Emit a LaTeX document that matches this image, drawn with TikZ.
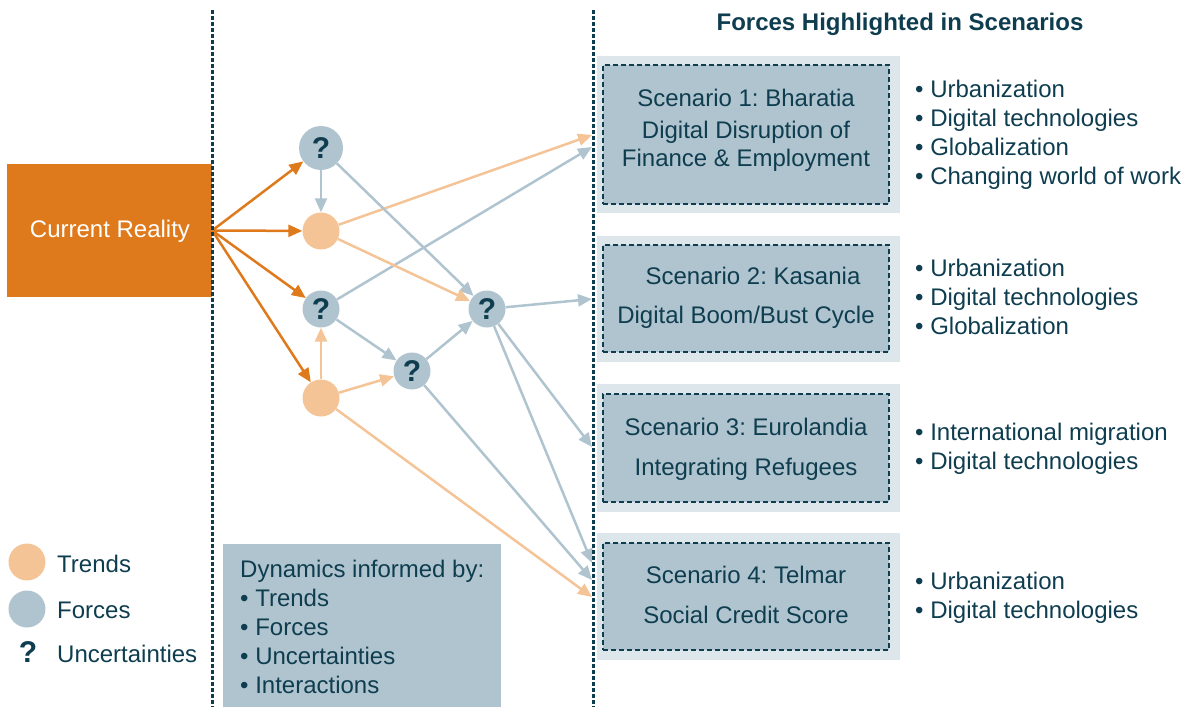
\documentclass[tikz,border=0pt]{standalone}
\usepackage{fontspec}
\setmainfont{Liberation Sans}
\usetikzlibrary{arrows.meta}
\definecolor{dk}{RGB}{14,61,79}
\definecolor{org}{RGB}{223,122,28}
\definecolor{lor}{RGB}{244,196,151}
\definecolor{gb}{RGB}{176,196,207}
\definecolor{lbg}{RGB}{221,230,235}
\frenchspacing
\begin{document}
\begin{tikzpicture}[x=1pt,y=-1pt,
  txt/.style={font=\fontsize{24}{29}\selectfont, text=dk, inner sep=0pt, anchor=base west},
  ctxt/.style={font=\fontsize{24}{29}\selectfont, text=dk, inner sep=0pt, anchor=base},
  trend/.style={circle, fill=lor, minimum size=37pt, inner sep=0pt},
  force/.style={circle, fill=gb, minimum size=37pt, inner sep=0pt, font=\bfseries\fontsize{30}{30}\selectfont, text=dk},
  oarr/.style={draw=org, line width=2.5pt, -{Triangle[length=14pt,width=12pt]}},
  larr/.style={draw=lor, line width=2.5pt, -{Triangle[length=14pt,width=12pt]}},
  garr/.style={draw=gb, line width=2.5pt, -{Triangle[length=14pt,width=12pt]}},
  vline/.style={draw=dk, line width=3pt, dash pattern=on 4pt off 2pt},
  outbox/.style={fill=lbg},
  inbox/.style={draw=dk, fill=gb, line width=2.6pt, dash pattern=on 5pt off 3pt, minimum width=286pt, inner sep=0pt}
]
\useasboundingbox (0,0) rectangle (1192,707);

% current reality
\node[fill=org, minimum width=205pt, minimum height=133pt, inner sep=0pt] (cr) at (109.5,230.5) {};
\node[font=\fontsize{24}{29}\selectfont, text=white, inner sep=0pt, anchor=base] (crt) at (110,237) {Current Reality};

% scenario boxes
\fill[outbox] (597,56) rectangle (900,213);
\fill[outbox] (597,236) rectangle (900,362);
\fill[outbox] (597,384) rectangle (900,512);
\fill[outbox] (597,533) rectangle (900,660);
\node[inbox, minimum height=139pt] (s1) at (746,134.5) {};
\node[inbox, minimum height=107pt] (s2) at (746,298.5) {};
\node[inbox, minimum height=108pt] (s3) at (746,448) {};
\node[inbox, minimum height=107pt] (s4) at (746,596.5) {};

\node[ctxt] (s1a) at (746,106) {Scenario 1: Bharatia};
\node[ctxt] (s1b) at (746,138) {Digital Disruption of};
\node[ctxt] (s1c) at (746,166) {Finance \& Employment};
\node[ctxt] (s2a) at (753,284) {Scenario 2: Kasania};
\node[ctxt] (s2b) at (746,323) {Digital Boom/Bust Cycle};
\node[ctxt] (s3a) at (746,435) {Scenario 3: Eurolandia};
\node[ctxt] (s3b) at (746,475) {Integrating Refugees};
\node[ctxt] (s4a) at (746,583) {Scenario 4: Telmar};
\node[ctxt] (s4b) at (746,623) {Social Credit Score};

% title
\node[ctxt, font=\bfseries\fontsize{24}{29}\selectfont] (title) at (900,30) {Forces Highlighted in Scenarios};

% bullet lists
\node[txt] (b11) at (915,97) {• Urbanization};
\node[txt] (b12) at (915,126) {• Digital technologies};
\node[txt] (b13) at (915,155) {• Globalization};
\node[txt] (b14) at (915,184) {• Changing world of work};
\node[txt] (b21) at (915,276) {• Urbanization};
\node[txt] (b22) at (915,305) {• Digital technologies};
\node[txt] (b23) at (915,334) {• Globalization};
\node[txt] (b31) at (915,440) {• International migration};
\node[txt] (b32) at (915,469) {• Digital technologies};
\node[txt] (b41) at (915,589) {• Urbanization};
\node[txt] (b42) at (915,618) {• Digital technologies};

% legend
\node[trend] (lt) at (27,562) {};
\node[txt] (ltt) at (57,572) {Trends};
\node[circle, fill=gb, minimum size=37pt, inner sep=0pt] (lf) at (27,609) {};
\node[txt] (lft) at (57,618) {Forces};
\node[font=\bfseries\fontsize{30}{30}\selectfont, text=dk, inner sep=0pt, anchor=base] (lq) at (28,662) {?};
\node[txt] (lqt) at (57,662) {Uncertainties};

% dynamics box
\fill[gb] (223,544) rectangle (501,707);
\node[txt] (d0) at (240,577) {Dynamics informed by:};
\node[txt] (d1) at (240,606) {• Trends};
\node[txt] (d2) at (240,635) {• Forces};
\node[txt] (d3) at (240,664) {• Uncertainties};
\node[txt] (d4) at (240,693) {• Interactions};

% network nodes
\node[force, minimum size=44pt] (q1) at (321,148) {?};
\node[trend] (t1) at (321,231) {};
\node[force] (q2) at (321,309) {?};
\node[trend] (t2) at (321,398) {};
\node[force] (q3) at (412,371) {?};
\node[force] (q4) at (487,309) {?};

% endpoints at scenario column
\coordinate (e1a) at (592,135);
\coordinate (e1b) at (592,147);
\coordinate (e2) at (592,299);
\coordinate (e3) at (592,447);
\coordinate (e4a) at (592,563);
\coordinate (e4b) at (592,580);
\coordinate (e4c) at (592,597);

% connectors
\draw[larr] (t1) -- (e1a);
\draw[garr] (q2) -- (e1b);
\draw[garr] (q1) -- (t1);
\draw[garr] (q1) -- (q4);
\draw[larr] (t1) -- (q4);
\draw[garr] (q4) -- (e2);
\draw[garr] (q2) -- (q3);
\draw[larr] (t2) -- (q2);
\draw[larr] (t2) -- (q3);
\draw[garr] (q3) -- (q4);
\draw[garr] (q4) -- (e3);
\draw[garr] (q4) -- (e4a);
\draw[garr] (q3) -- (e4b);
\draw[larr] (t2) -- (e4c);
\draw[oarr] (cr.east) -- (q1);
\draw[oarr] (cr.east) -- (t1);
\draw[oarr] (cr.east) -- (q2);
\draw[oarr] (cr.east) -- (t2);

% dotted separators
\coordinate (v1t) at (212,10);
\coordinate (v1b) at (212,707);
\coordinate (v2t) at (593,10);
\coordinate (v2b) at (593,707);
\draw[vline] (v1t) -- (v1b);
\draw[vline] (v2t) -- (v2b);
\end{tikzpicture}
\end{document}
